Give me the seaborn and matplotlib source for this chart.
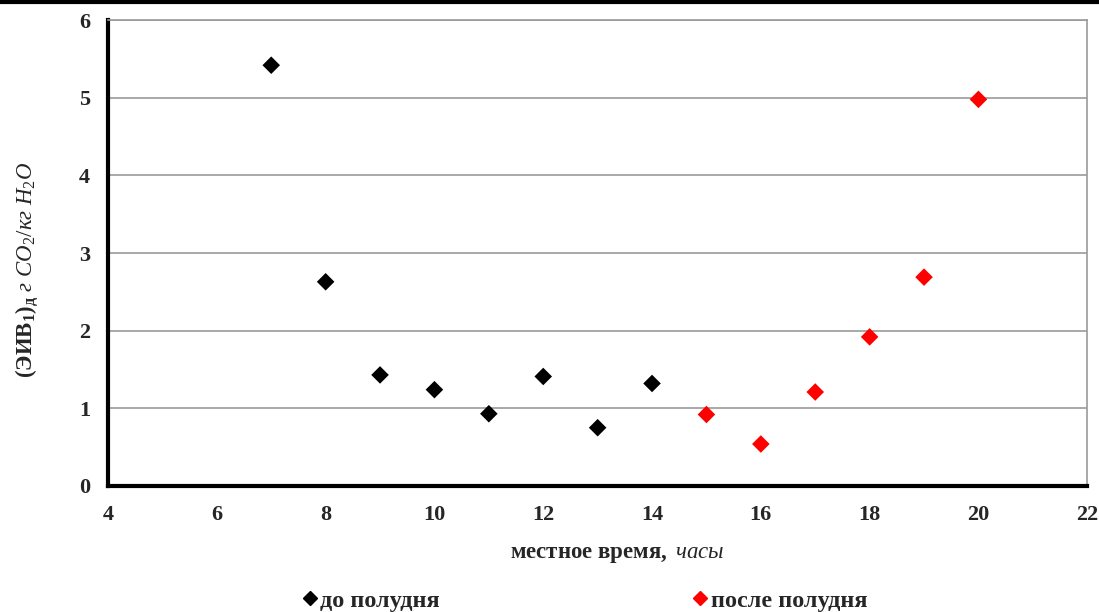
import pandas as pd
import matplotlib
matplotlib.use("Agg")
import matplotlib.pyplot as plt
import matplotlib.lines as mlines
import seaborn as sb

# до полудня / после полудня
hours_am = [7, 8, 9, 10, 11, 12, 13, 14]
eiv_am = [5.42, 2.63, 1.43, 1.24, 0.93, 1.41, 0.75, 1.32]
hours_pm = [15, 16, 17, 18, 19, 20]
eiv_pm = [0.92, 0.54, 1.21, 1.92, 2.69, 4.98]
period_names = ['до полудня', 'после полудня']
x_ticks = [4, 6, 8, 10, 12, 14, 16, 18, 20, 22]
y_ticks = [0, 1, 2, 3, 4, 5, 6]

df = pd.DataFrame({
    'час': hours_am + hours_pm,
    'эив': eiv_am + eiv_pm,
    'период': [period_names[0]] * len(hours_am) + [period_names[1]] * len(hours_pm),
})

sb.set_theme(style="white")
plt.rcParams['font.family'] = ['Liberation Serif', 'DejaVu Serif']
plt.rcParams['mathtext.fontset'] = 'custom'
plt.rcParams['mathtext.rm'] = 'Liberation Serif'
plt.rcParams['mathtext.it'] = 'Liberation Serif:italic'
plt.rcParams['mathtext.bf'] = 'Liberation Serif:bold'

fig = plt.figure(figsize=(10.99, 6.12), dpi=100)
ax = fig.add_axes([0.0983, 0.206, 0.891, 0.761])

sb.scatterplot(data=df, x='час', y='эив', hue='период', marker='D', s=80,
               palette=['black', '#ff0000'], edgecolor='none', ax=ax, legend=False)

ax.set_xlim(4, 22)
ax.set_ylim(0, 6)
ax.set_xticks(x_ticks)
ax.set_yticks(y_ticks)
ax.yaxis.grid(True, color='#9a9a9a', linewidth=1.2)
ax.set_axisbelow(True)

for s in ['left', 'bottom']:
    ax.spines[s].set_color('black')
    ax.spines[s].set_linewidth(3)
for s in ['right', 'top']:
    ax.spines[s].set_color('#9a9a9a')
    ax.spines[s].set_linewidth(1.2)

ax.tick_params(axis='both', direction='out', length=5, width=2.5, color='black',
               labelsize=16)
ax.tick_params(axis='x', pad=9)
ax.tick_params(axis='y', pad=8)
for lab in ax.get_xticklabels() + ax.get_yticklabels():
    lab.set_fontweight('bold')

ax.set_xlabel(r'$\mathbf{местное\ время,}\ \mathit{часы}$', fontsize=16.5)
ax.xaxis.set_label_coords(0.52, -0.125)
ax.set_ylabel(r'$\mathbf{(ЭИВ_{1})_{д}}\ \mathit{г\ CO_{2}/кг\ H_{2}O}$', fontsize=16.5)
ax.yaxis.set_label_coords(-0.068, 0.464)

handles = [mlines.Line2D([], [], color=c, marker='D', linestyle='none', markersize=7.5)
           for c in ['black', '#ff0000']]
fig.legend(handles, period_names, loc='lower center', bbox_to_anchor=(0.5245, -0.035),
           ncol=2, frameon=False, columnspacing=9.7, handletextpad=-0.55,
           prop={'family': 'Liberation Serif', 'weight': 'bold', 'size': 17.5})

fig.add_artist(mlines.Line2D([0, 1], [0.997, 0.997], color='black', linewidth=3,
                             transform=fig.transFigure))

plt.savefig('out.png', dpi=100)
